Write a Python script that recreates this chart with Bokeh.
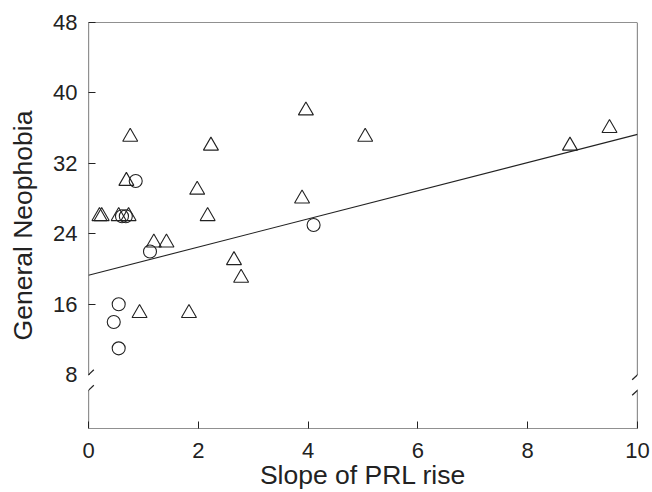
from bokeh.plotting import figure
from bokeh.models import Range1d, FixedTicker, Arrow, BoxAnnotation
from bokeh.embed import file_html
from bokeh.resources import INLINE

# ---- data ----
tri_x = [0.20, 0.24, 0.55, 0.73, 0.76, 0.69, 2.23, 1.98, 2.17, 1.19, 1.42,
         2.65, 2.78, 0.93, 1.83, 3.96, 5.04, 3.89, 8.77, 9.49]
tri_y = [26, 26, 26, 26, 35, 30, 34, 29, 26, 23, 23,
         21, 19, 15, 15, 38, 35, 28, 34, 36]
circ_x = [0.86, 1.12, 4.10, 0.55, 0.46, 0.55, 0.61, 0.68]
circ_y = [30, 22, 25, 16, 14, 11, 26, 26]

fit_intercept = 19.3
fit_slope = 1.6

x_ticks = [0, 2, 4, 6, 8, 10]
y_ticks = [8, 16, 24, 32, 40, 48]
x_min, x_max = 0, 10
y_min, y_max = 1.9, 48
break_hi, break_lo = 8.0, 6.24

FONT = "Liberation Sans"
INK = "#222222"

p = figure(width=652, height=492, output_backend="svg", toolbar_location=None,
           title=None,
           x_range=Range1d(x_min, x_max), y_range=Range1d(y_min, y_max),
           min_border_left=88, min_border_right=15, min_border_top=22,
           min_border_bottom=64)
p.grid.visible = False
p.outline_line_color = None
p.background_fill_color = "white"
p.border_fill_color = "white"

p.xaxis.ticker = FixedTicker(ticks=x_ticks)
p.yaxis.ticker = FixedTicker(ticks=y_ticks)
p.xaxis.axis_label = "Slope of PRL rise"
p.yaxis.axis_label = "General Neophobia"
for ax in (p.xaxis[0], p.yaxis[0]):
    ax.axis_line_color = None
    ax.major_tick_in = 7
    ax.major_tick_out = 0
    ax.major_tick_line_color = INK
    ax.minor_tick_line_color = None
    ax.major_label_text_font = FONT
    ax.major_label_text_font_size = "22px"
    ax.major_label_text_color = INK
    ax.axis_label_text_font = FONT
    ax.axis_label_text_font_size = "26.5px"
    ax.axis_label_text_font_style = "normal"
    ax.axis_label_text_color = INK
p.xaxis[0].major_label_standoff = 14
p.xaxis[0].axis_label_standoff = -1
p.yaxis[0].major_label_standoff = 11
p.yaxis[0].axis_label_standoff = 12

# regression line
fit_x = [x_min, x_max]
fit_y = [fit_intercept + fit_slope * v for v in fit_x]
p.line(fit_x, fit_y, line_color=INK, line_width=1.1)

# markers
p.scatter(tri_x, tri_y, marker="triangle", size=15, fill_color=None,
          line_color=INK, line_width=1.1)
p.scatter(circ_x, circ_y, marker="circle", size=13, fill_color=None,
          line_color=INK, line_width=1.1)

# hide the tick at the break
p.add_layout(BoxAnnotation(left=x_min + 0.02, right=x_min + 0.25,
                           bottom=break_hi - 0.35, top=break_hi + 0.35,
                           fill_color="white", fill_alpha=1.0, line_color=None,
                           level="annotation"))

# frame with broken vertical sides
def seg(x0, y0, x1, y1, color=INK):
    p.add_layout(Arrow(start=None, end=None, x_start=x0, y_start=y0,
                       x_end=x1, y_end=y1, line_color=color, line_width=1.2,
                       level="overlay"))

seg(x_min, y_max, x_max, y_max)
seg(x_min, y_min, x_max, y_min)
for xe in (x_min, x_max):
    seg(xe, y_max, xe, break_hi)
    seg(xe, break_lo, xe, y_min)
    for yb in (break_hi, break_lo):
        seg(xe - 0.097, yb - 0.57, xe + 0.097, yb + 0.57)

open("out.html", "w").write(file_html(p, INLINE))
